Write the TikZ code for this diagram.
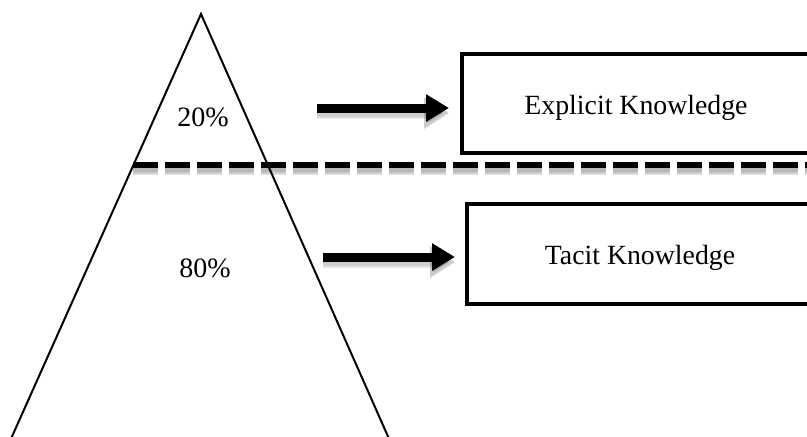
\documentclass[tikz,border=0pt]{standalone}
\usepackage{fontspec}
\setmainfont{Liberation Serif}
\usetikzlibrary{arrows.meta}
\tikzset{
  kbox/.style={draw=black, line width=4.5pt, fill=white, rectangle,
    anchor=north west, outer sep=0pt, inner sep=0pt,
    minimum width=380pt, minimum height=99pt},
  ktext/.style={font=\fontsize{27.8}{33}\selectfont, inner sep=0pt},
  pct/.style={font=\fontsize{28}{33}\selectfont, inner sep=0pt},
  bigarrow/.style={line width=9pt, -{Triangle[length=23pt,width=26pt]}},
  arrowshade/.style={line width=12pt, draw=black, opacity=0.10,
    -{Triangle[length=25pt,width=30pt]}},
  cutline/.style={line width=6.5pt, dash pattern=on 25pt off 7pt},
  cutshade/.style={line width=10pt, draw=black, opacity=0.10,
    dash pattern=on 25pt off 7pt},
  pyramid/.style={line width=2pt, line join=miter}
}
\begin{document}
\begin{tikzpicture}[x=1pt, y=-1pt]
  \useasboundingbox (0,0) rectangle (807,437);
  \clip (0,0) rectangle (807,437);
  \fill[white] (0,0) rectangle (807,437);

  % pyramid outline, open at the bottom edge
  \coordinate (apex) at (201,14);
  \coordinate (baseL) at (10,441);
  \coordinate (baseR) at (390,441);
  \draw[pyramid] (baseL) -- (apex) -- (baseR);

  % dividing line with its soft shadow below it
  \coordinate (cutA) at (133,165);
  \coordinate (cutB) at (840,165);
  \draw[cutshade] ([yshift=-5pt]cutA) -- ([yshift=-5pt]cutB);
  \draw[cutshade, line width=7pt] ([yshift=-5pt]cutA) -- ([yshift=-5pt]cutB);
  \draw[cutshade, line width=4pt] ([yshift=-5pt]cutA) -- ([yshift=-5pt]cutB);
  \draw[cutline] (cutA) -- (cutB);

  % percentage labels
  \node[pct] (p20) at (203,117) {20\%};
  \node[pct] (p80) at (205,268) {80\%};

  % knowledge boxes
  \node[kbox] (ebox) at (462,54) {};
  \node[kbox, minimum height=100pt] (tbox) at (467,204) {};
  \node[ktext] (etext) at (636,108) {Explicit Knowledge};
  \node[ktext] (ttext) at (640,258) {Tacit Knowledge};

  % arrows toward the boxes, each with a soft shadow below it
  \coordinate (a1s) at (317,108);
  \coordinate (a1e) at (449,108);
  \coordinate (a2s) at (323,257);
  \coordinate (a2e) at (455,257);
  \draw[arrowshade] ([yshift=-5pt]a1s) -- ([yshift=-5pt]a1e);
  \draw[arrowshade, line width=8pt] ([yshift=-5pt]a1s) -- ([yshift=-5pt]a1e);
  \draw[arrowshade] ([yshift=-5pt]a2s) -- ([yshift=-5pt]a2e);
  \draw[arrowshade, line width=8pt] ([yshift=-5pt]a2s) -- ([yshift=-5pt]a2e);
  \draw[bigarrow] (a1s) -- (a1e);
  \draw[bigarrow] (a2s) -- (a2e);
\end{tikzpicture}
\end{document}
